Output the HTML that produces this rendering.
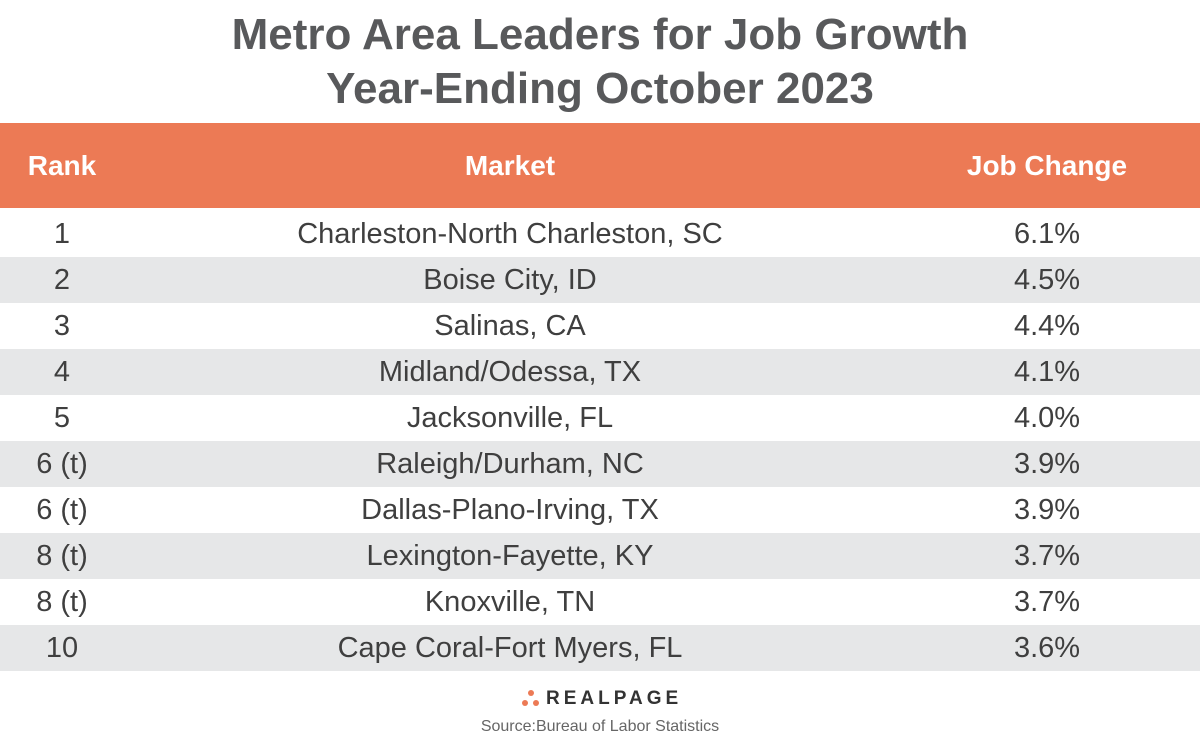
<!DOCTYPE html>
<html><head><meta charset="utf-8"><style>
body{margin:0;width:1200px;height:745px;background:#fff;font-family:"Liberation Sans",sans-serif;position:relative;overflow:hidden}
.t{position:absolute;left:0;width:1200px;text-align:center;font-weight:bold;color:#58595b;font-size:44px}
.hdr{position:absolute;left:0;top:123px;width:1200px;height:85px;background:#ec7a55}
.hc{position:absolute;top:0;line-height:85px;color:#fff;font-size:28px;font-weight:bold;text-align:center}
.row{position:absolute;left:0;width:1200px;height:46px}
.row.g{background:#e6e7e8}
.c{position:absolute;top:0;line-height:46px;font-size:29px;color:#3f3f3f;text-align:center}
.c1{left:0;width:124px}.c2{left:160px;width:700px}.c3{left:947px;width:200px}
</style></head><body>
<div class="t" style="top:10px">Metro Area Leaders for Job Growth</div>
<div class="t" style="top:64px">Year-Ending October 2023</div>
<div class="hdr">
<div class="hc c1">Rank</div>
<div class="hc c2">Market</div>
<div class="hc c3">Job Change</div>
</div>
<div id="rows"></div>
<div style="position:absolute;left:522px;top:688px;font-size:19px;letter-spacing:4px;font-weight:bold;color:#333">
<span style="position:relative;display:inline-block;width:18px;height:18px;vertical-align:middle;margin-right:6px">
<i style="position:absolute;left:6px;top:0;width:6px;height:6px;border-radius:50%;background:#ec7a55"></i>
<i style="position:absolute;left:0;top:10px;width:6px;height:6px;border-radius:50%;background:#ec7a55"></i>
<i style="position:absolute;left:11px;top:10px;width:6px;height:6px;border-radius:50%;background:#ec7a55"></i></span>REALPAGE</div>
<div style="position:absolute;left:0;width:1200px;text-align:center;top:718px;font-size:16px;color:#666">Source:Bureau of Labor Statistics</div>
<script>
const ranks=["1","2","3","4","5","6 (t)","6 (t)","8 (t)","8 (t)","10"];
const markets=["Charleston-North Charleston, SC","Boise City, ID","Salinas, CA","Midland/Odessa, TX","Jacksonville, FL","Raleigh/Durham, NC","Dallas-Plano-Irving, TX","Lexington-Fayette, KY","Knoxville, TN","Cape Coral-Fort Myers, FL"];
const changes=[6.1,4.5,4.4,4.1,4.0,3.9,3.9,3.7,3.7,3.6];
const host=document.getElementById('rows');
ranks.forEach((r,i)=>{
 const row=document.createElement('div');
 row.className='row'+(i%2?' g':'');
 row.style.top=(211+i*46)+'px';
 
 
 const vals=[r,markets[i],changes[i].toFixed(1)+'%'];
 const names=['rank-cell','market-cell','job-change-cell'];
 vals.forEach((v,j)=>{
  const c=document.createElement('div');
  c.className='c c'+(j+1);
  c.textContent=v;
  
  
  row.appendChild(c);
 });
 host.appendChild(row);
});
</script>
</body></html>
